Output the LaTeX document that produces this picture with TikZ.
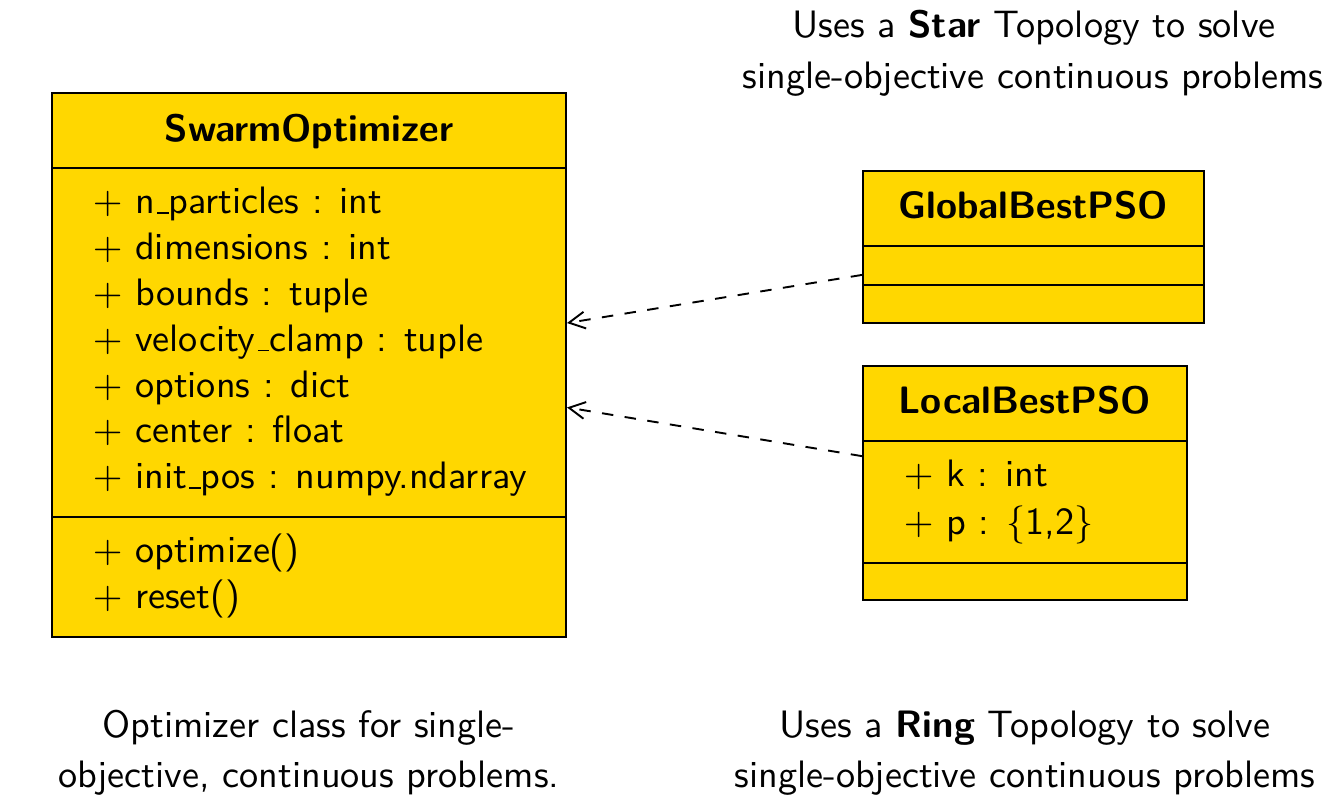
\documentclass[tikz,border=0pt]{standalone}
\usetikzlibrary{arrows.meta}
\definecolor{umlgold}{RGB}{255,215,0}
\newcommand\usc{\leavevmode\kern.06em\vbox{\hrule width.3em}}
\begin{document}
\begin{tikzpicture}[x=0.2618pt,y=-0.2618pt,
  classbox/.style={draw=black,fill=umlgold,line width=0.5pt,inner sep=0pt,rectangle},
  divider/.style={draw=black,line width=0.5pt},
  title/.style={anchor=base,font=\sffamily\bfseries,inner sep=0pt},
  attr/.style={anchor=base west,font=\sffamily,inner sep=0pt},
  note/.style={anchor=base,font=\sffamily,inner sep=0pt},
  realize/.style={draw=black,line width=0.5pt,dashed,-{Straight Barb[length=4.2pt,width=4.4pt]}}]
\useasboundingbox (0,0) rectangle (1343,809);
% classes
\node[classbox,minimum width=134.57pt,minimum height=142.42pt] (swarm) at (309,365) {};
\node[classbox,minimum width=89.27pt,minimum height=39.79pt] (global) at (1033.5,247) {};
\node[classbox,minimum width=84.82pt,minimum height=61.26pt] (local) at (1025,483) {};
% dividers
\draw[divider] (swarm.west |- 0,168) -- (swarm.east |- 0,168);
\draw[divider] (swarm.west |- 0,517) -- (swarm.east |- 0,517);
\draw[divider] (global.west |- 0,246) -- (global.east |- 0,246);
\draw[divider] (global.west |- 0,285) -- (global.east |- 0,285);
\draw[divider] (local.west |- 0,441) -- (local.east |- 0,441);
\draw[divider] (local.west |- 0,563) -- (local.east |- 0,563);
% titles
\node[title] (swarmtitle) at (309,142) {SwarmOptimizer};
\node[title] (globaltitle) at (1033.5,219) {GlobalBestPSO};
\node[title] (localtitle) at (1025,414) {LocalBestPSO};
% swarm attributes
\node[attr] (sa1) at (92,214) {$+$ n\usc particles : int};
\node[attr] (sa2) at (92,259.8) {$+$ dimensions : int};
\node[attr] (sa3) at (92,305.6) {$+$ bounds : tuple};
\node[attr] (sa4) at (92,351.4) {$+$ velocity\usc clamp : tuple};
\node[attr] (sa5) at (92,397.2) {$+$ options : dict};
\node[attr] (sa6) at (92,443) {$+$ center : float};
\node[attr] (sa7) at (92,488.8) {$+$ init\usc pos : numpy.ndarray};
\node[attr] (sm1) at (92,563) {$+$ optimize()};
\node[attr] (sm2) at (92,608.8) {$+$ reset()};
% local attributes
\node[attr] (la1) at (903,487) {$+$ k : int};
\node[attr] (la2) at (903,535) {$+$ p : $\{$1,2$\}$};
% notes
\node[note] (n1a) at (1034,38) {Uses a \textbf{Star} Topology to solve};
\node[note] (n1b) at (1033,89) {single-objective continuous problems};
\node[note] (n2a) at (309,737) {Optimizer class for single-};
\node[note] (n2b) at (309,788) {objective, continuous problems.};
\node[note] (n3a) at (1025,737) {Uses a \textbf{Ring} Topology to solve};
\node[note] (n3b) at (1025,788) {single-objective continuous problems};
% realizations
\draw[realize] (global) -- (swarm);
\draw[realize] (local) -- (swarm);
\end{tikzpicture}
\end{document}
